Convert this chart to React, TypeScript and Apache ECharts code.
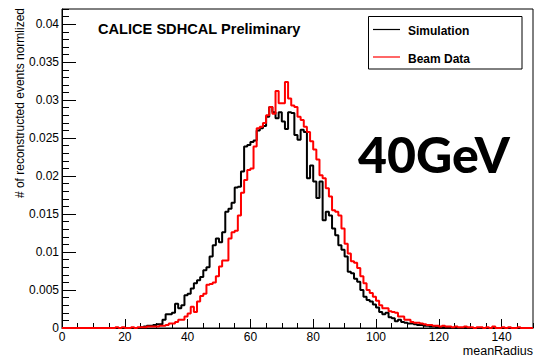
import React, { useEffect, useRef } from "react";
import * as echarts from "echarts";

// Histogram binning (x axis "meanRadius")
const nBins = 150;
const binLow = 0;
const binWidth = 1;

// Simulation (black), values starting at bin index simStartBin
const simStartBin = 20;
const simulation = [
  0, 0, 0, 0, 0,
  0.0001, 0.0002, 0.0003, 0.0003, 0.0004,
  0.0005, 0.0005, 0.0011, 0.0018, 0.0018,
  0.0020, 0.0032, 0.0026, 0.0030, 0.0043,
  0.0045, 0.0052, 0.0059, 0.0063, 0.0067,
  0.0076, 0.0080, 0.0094, 0.0109, 0.0118,
  0.0113, 0.0126, 0.0153, 0.0157, 0.0165,
  0.0185, 0.0186, 0.0206, 0.0239, 0.0241,
  0.0245, 0.0247, 0.0260, 0.0263, 0.0266,
  0.0278, 0.0291, 0.0284, 0.0276, 0.0284,
  0.0272, 0.0262, 0.0284, 0.0283, 0.0254,
  0.0248, 0.0261, 0.0258, 0.0197, 0.0214,
  0.0193, 0.0171, 0.0193, 0.0142, 0.0153,
  0.0148, 0.0131, 0.0122, 0.0109, 0.0103,
  0.0094, 0.0074, 0.0072, 0.0065, 0.0061,
  0.0050, 0.0041, 0.0037, 0.0035, 0.0031,
  0.0027, 0.0021, 0.0018, 0.0020, 0.0014,
  0.0013, 0.0009, 0.0011, 0.0008, 0.0007,
  0.0006, 0.0006, 0.0005, 0.0004, 0.0004,
  0.0003, 0.0003, 0.0002, 0.0002, 0.0001,
  0.0001, 0.0001, 0, 0.0001,
];

// Beam Data (red), values starting at bin index dataStartBin
const dataStartBin = 17;
const beamData = [
  0.0001, 0, 0.0001, 0, 0,
  0.0001, 0, 0.0001, 0.0001, 0.0001,
  0.0002, 0.0002, 0.0002, 0.0002, 0.0003,
  0.0003, 0.0004, 0.0006, 0.0006, 0.0008,
  0.0011, 0.0011, 0.0015, 0.0019, 0.0028,
  0.0021, 0.0035, 0.0042, 0.0045, 0.0057,
  0.0058, 0.0060, 0.0068, 0.0081, 0.0089,
  0.0089, 0.0118, 0.0126, 0.0128, 0.0148,
  0.0178, 0.0195, 0.0208, 0.0210, 0.0239,
  0.0263, 0.0265, 0.0270, 0.0280, 0.0291,
  0.0282, 0.0312, 0.0296, 0.0296, 0.0324,
  0.0302, 0.0293, 0.0291, 0.0278, 0.0274,
  0.0265, 0.0258, 0.0246, 0.0235, 0.0222,
  0.0201, 0.0197, 0.0184, 0.0173, 0.0155,
  0.0153, 0.0148, 0.0131, 0.0111, 0.0098,
  0.0088, 0.0086, 0.0079, 0.0068, 0.0059,
  0.0050, 0.0046, 0.0041, 0.0036, 0.0030,
  0.0026, 0.0026, 0.0022, 0.0021, 0.0020,
  0.0015, 0.0015, 0.0011, 0.0011, 0.0008,
  0.0007, 0.0007, 0.0006, 0.0005, 0.0004,
  0.0004, 0.0003, 0.0003, 0.0002, 0.0003,
  0.0002, 0.0002, 0.0001, 0.0002, 0.0001,
  0.0001, 0.0002, 0.0001, 0.0001, 0,
  0.0001, 0.0001, 0, 0.0001, 0,
  0.0002, 0, 0, 0.0001, 0,
  0.0001, 0, 0, 0.0001,
];

const seriesNames = ["Simulation", "Beam Data"];
const titleText = "CALICE SDHCAL Preliminary";
const energyText = "40GeV";
const xTitle = "meanRadius";
const yTitle = "# of reconstructed events normlized";

const xMin = 0;
const xMax = 150;
const yMin = 0;
const yMax = 0.042;

function toSteps(values: number[], startBin: number) {
  const full = new Array(nBins).fill(0);
  values.forEach((v, i) => {
    full[startBin + i] = v;
  });
  const pts = full.map((v, i) => [binLow + i * binWidth, v]);
  pts.push([binLow + nBins * binWidth, full[nBins - 1]]);
  return pts;
}

const FONT = "Liberation Sans";

export default function App() {
  const ref = useRef<HTMLDivElement>(null);
  useEffect(() => {
    if (!ref.current) return;
    const chart = echarts.init(ref.current, undefined, { renderer: "svg" });
    const tickLine = { color: "#000", width: 1 };
    chart.setOption({
      animation: false,
      backgroundColor: "#fff",
      grid: {
        left: 62,
        right: 1,
        top: 9,
        bottom: 30,
        show: true,
        borderColor: "#000",
        borderWidth: 1,
      },
      xAxis: [
        {
          type: "value",
          min: xMin,
          max: xMax,
          interval: 20,
          position: "bottom",
          axisLine: { show: true, onZero: false, lineStyle: tickLine },
          axisTick: { show: true, inside: true, length: 9, lineStyle: tickLine },
          axisLabel: {
            show: true,
            margin: 3,
            fontSize: 12,
            fontFamily: FONT,
            color: "#000",
            showMaxLabel: false,
          },
          splitLine: { show: false },
        },
        {
          type: "value",
          min: xMin,
          max: xMax,
          interval: 5,
          position: "bottom",
          axisLine: { show: false, onZero: false },
          axisTick: { show: true, inside: true, length: 5, lineStyle: tickLine },
          axisLabel: { show: false },
          splitLine: { show: false },
        },
      ],
      yAxis: [
        {
          type: "value",
          min: yMin,
          max: yMax,
          interval: 0.005,
          position: "left",
          axisLine: { show: true, onZero: false, lineStyle: tickLine },
          axisTick: { show: true, inside: true, length: 14, lineStyle: tickLine },
          axisLabel: {
            show: true,
            margin: 3,
            fontSize: 12,
            fontFamily: FONT,
            color: "#000",
            showMaxLabel: false,
            formatter: (v: number) => String(+v.toFixed(4)),
          },
          splitLine: { show: false },
        },
        {
          type: "value",
          min: yMin,
          max: yMax,
          interval: 0.001,
          position: "left",
          axisLine: { show: false, onZero: false },
          axisTick: { show: true, inside: true, length: 7, lineStyle: tickLine },
          axisLabel: { show: false },
          splitLine: { show: false },
        },
      ],
      series: [
        {
          name: seriesNames[0],
          type: "line",
          step: "end",
          data: toSteps(simulation, simStartBin),
          showSymbol: false,
          symbol: "none",
          lineStyle: { color: "#000", width: 2 },
          itemStyle: { color: "#000" },
          z: 2,
        },
        {
          name: seriesNames[1],
          type: "line",
          step: "end",
          data: toSteps(beamData, dataStartBin),
          showSymbol: false,
          symbol: "none",
          lineStyle: { color: "#ff0000", width: 2 },
          itemStyle: { color: "#ff0000" },
          z: 3,
        },
      ],
      graphic: [
        {
          type: "text",
          x: 98,
          y: 29,
          style: {
            text: titleText,
            fontFamily: FONT,
            fontWeight: "bold",
            fontSize: 14.6,
            fill: "#000",
            verticalAlign: "middle",
          },
        },
        {
          type: "text",
          x: 20,
          y: 8,
          rotation: Math.PI / 2,
          style: {
            text: yTitle,
            fontFamily: FONT,
            fontSize: 12,
            fill: "#000",
            align: "right",
            verticalAlign: "middle",
          },
        },
        {
          type: "text",
          x: 533,
          y: 351,
          style: {
            text: xTitle,
            fontFamily: FONT,
            fontSize: 12.5,
            fill: "#000",
            align: "right",
            verticalAlign: "middle",
          },
        },
        {
          type: "rect",
          shape: { x: 368.5, y: 16.5, width: 153.5, height: 52.5 },
          style: { fill: "#fff", stroke: "#000", lineWidth: 1 },
          z: 10,
        },
        {
          type: "line",
          shape: { x1: 373, y1: 29.5, x2: 400, y2: 29.5 },
          style: { stroke: "#000", lineWidth: 1.2 },
          z: 11,
        },
        {
          type: "line",
          shape: { x1: 373, y1: 57, x2: 400, y2: 57 },
          style: { stroke: "#ff0000", lineWidth: 1.2 },
          z: 11,
        },
        {
          type: "text",
          x: 408,
          y: 31,
          style: {
            text: seriesNames[0],
            fontFamily: FONT,
            fontWeight: "bold",
            fontSize: 12,
            fill: "#000",
            verticalAlign: "middle",
          },
          z: 11,
        },
        {
          type: "text",
          x: 408,
          y: 59,
          style: {
            text: seriesNames[1],
            fontFamily: FONT,
            fontWeight: "bold",
            fontSize: 12,
            fill: "#000",
            verticalAlign: "middle",
          },
          z: 11,
        },
        {
          type: "text",
          x: 358,
          y: 154,
          style: {
            text: energyText,
            fontFamily: "Lato",
            fontWeight: 900,
            fontSize: 50,
            fill: "#000",
            verticalAlign: "middle",
          },
          z: 11,
        },
      ],
    });
    return () => chart.dispose();
  }, []);
  return (
    <div
      ref={ref}
      style={{ position: "fixed", left: 0, top: 0, width: 534, height: 358, background: "#fff" }}
    />
  );
}
